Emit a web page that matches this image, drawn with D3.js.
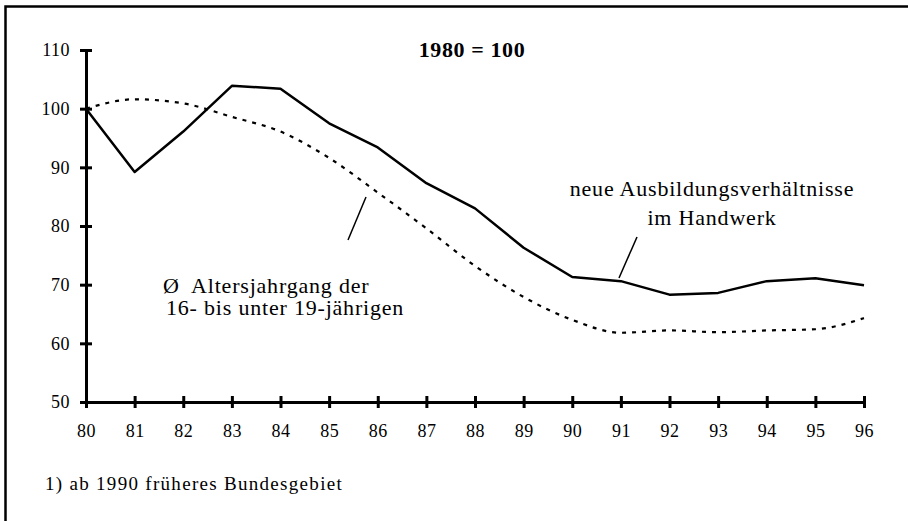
<!DOCTYPE html>
<html>
<head>
<meta charset="utf-8">
<script src="https://cdn.jsdelivr.net/npm/d3@7"></script>
<style>
  body { margin: 0; background: #fff; }
  text { font-family: "Liberation Serif", "Times New Roman", "DejaVu Serif", serif; fill: #000; }
</style>
</head>
<body>
<svg width="908" height="521"></svg>
<script>
const years = [80, 81, 82, 83, 84, 85, 86, 87, 88, 89, 90, 91, 92, 93, 94, 95, 96];
const handwerk = [100, 89.2, 96.1, 103.9, 103.4, 97.5, 93.4, 87.3, 83.0, 76.3, 71.3, 70.6, 68.3, 68.6, 70.6, 71.1, 69.9];
const altersjahrgang = [100, 101.6, 100.9, 98.6, 96.1, 91.6, 85.7, 79.6, 73.2, 67.9, 64.0, 61.8, 62.2, 61.9, 62.2, 62.4, 64.3];
const yTicks = [50, 60, 70, 80, 90, 100, 110];

const serif = '"Liberation Serif", "Times New Roman", "DejaVu Serif", serif';

const svg = d3.select('svg');
const margin = { top: 50, left: 86 };
const innerWidth = 778;
const innerHeight = 352;

// frame (right and bottom edges lie just outside the picture)
svg.append('rect')
    .attr('x', 5.5).attr('y', 6.5)
    .attr('width', 906).attr('height', 518)
    .attr('fill', 'none')
    .attr('stroke', '#000')
    .attr('stroke-width', 2.5);

const xScale = d3.scaleLinear()
    .domain([80, 96])
    .range([0, innerWidth]);

const yScale = d3.scaleLinear()
    .domain([50, 110])
    .range([innerHeight, 0]);

const g = svg.append('g')
    .attr('transform', `translate(${margin.left},${margin.top})`);

// y axis
const yAxis = g.append('g')
    .call(d3.axisLeft(yScale).tickValues(yTicks).tickSize(0).tickPadding(16).tickFormat(d3.format('d')));
yAxis.attr('font-family', serif);
yAxis.select('.domain').attr('stroke-width', 3);
yAxis.selectAll('.tick line')
    .attr('x1', -6).attr('x2', 6)
    .attr('stroke-width', 3);
yAxis.selectAll('.tick text')
    .style('font-size', '18px')
    .style('letter-spacing', '0.5px');

// x axis
const xAxis = g.append('g')
    .attr('transform', `translate(0,${innerHeight})`)
    .call(d3.axisBottom(xScale).tickValues(years).tickSize(0).tickPadding(22).tickFormat(d3.format('d')));
xAxis.attr('font-family', serif);
xAxis.select('.domain').attr('stroke-width', 3);
xAxis.selectAll('.tick line')
    .attr('y1', -6).attr('y2', 6)
    .attr('stroke-width', 3);
xAxis.selectAll('.tick text')
    .style('font-size', '18px')
    .style('letter-spacing', '0.5px');

// lines
const solidLine = d3.line()
    .x((d, i) => xScale(years[i]))
    .y(d => yScale(d));

const dashedLine = d3.line()
    .x((d, i) => xScale(years[i]))
    .y(d => yScale(d))
    .curve(d3.curveMonotoneX);

g.append('path')
    .datum(altersjahrgang)
    .attr('d', dashedLine)
    .attr('fill', 'none')
    .attr('stroke', '#000')
    .attr('stroke-width', 2.2)
    .attr('stroke-dasharray', '4,6');

g.append('path')
    .datum(handwerk)
    .attr('d', solidLine)
    .attr('fill', 'none')
    .attr('stroke', '#000')
    .attr('stroke-width', 2.5)
    .attr('stroke-linejoin', 'round');

// title
svg.append('text')
    .attr('x', 472).attr('y', 57)
    .attr('text-anchor', 'middle')
    .style('font-size', '22px')
    .style('font-weight', 'bold')
    .style('letter-spacing', '0.6px')
    .text('1980 = 100');

// labels
const label = (x, y, txt, anchor) => svg.append('text')
    .attr('x', x).attr('y', y)
    .attr('text-anchor', anchor)
    .style('font-size', '22px')
    .style('letter-spacing', '0.8px')
    .style('white-space', 'pre')
    .text(txt);

label(712, 196, 'neue Ausbildungsverhältnisse', 'middle');
label(712, 225, 'im Handwerk', 'middle');
label(163, 293, 'Ø  Altersjahrgang der', 'start');
label(166, 315, '16- bis unter 19-jährigen', 'start');

// leader lines
svg.append('line')
    .attr('x1', 366).attr('y1', 197).attr('x2', 348).attr('y2', 240)
    .attr('stroke', '#000').attr('stroke-width', 1.5);
svg.append('line')
    .attr('x1', 637).attr('y1', 237).attr('x2', 619).attr('y2', 278)
    .attr('stroke', '#000').attr('stroke-width', 1.5);

// footnote
svg.append('text')
    .attr('x', 45).attr('y', 490)
    .style('font-size', '19px')
    .style('letter-spacing', '1.3px')
    .text('1) ab 1990 früheres Bundesgebiet');
</script>
</body>
</html>
